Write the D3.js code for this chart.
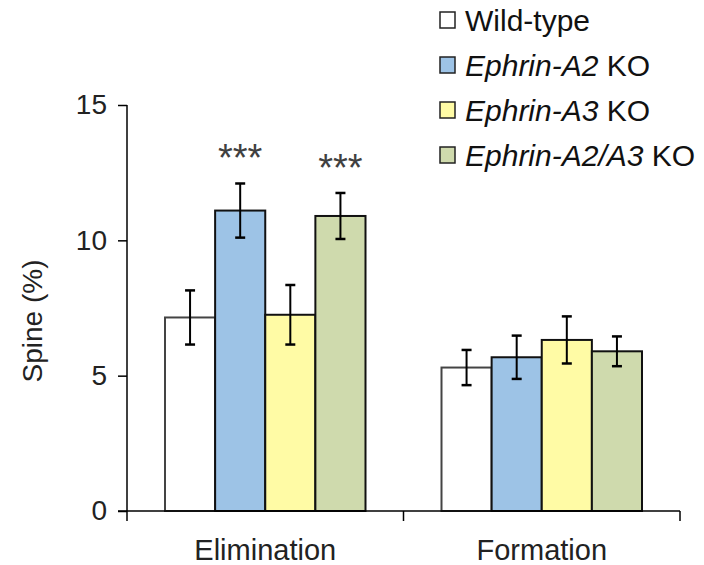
<!DOCTYPE html>
<html>
<head>
<meta charset="utf-8">
<script src="https://cdn.jsdelivr.net/npm/d3@7"></script>
<style>
  body { margin: 0; background: #fff; }
  text { font-family: "Liberation Sans", Arial, sans-serif; }
</style>
</head>
<body>
<svg id="chart" width="704" height="565"></svg>
<script>
// Chart data
const categories = ["Elimination", "Formation"];
const seriesNames = ["Wild-type", "Ephrin-A2 KO", "Ephrin-A3 KO", "Ephrin-A2/A3 KO"];
const seriesColors = ["#ffffff", "#9dc3e6", "#fffba5", "#cfdaad"];
const meanValues = [
    [7.15, 11.1, 7.25, 10.9],
    [5.3, 5.68, 6.32, 5.9]
];
const errorValues = [
    [1.0, 1.0, 1.1, 0.85],
    [0.65, 0.8, 0.87, 0.55]
];
const stars = [
    ["", "***", "", "***"],
    ["", "", "", ""]
];
const yTicks = [0, 5, 10, 15];

const svg = d3.select("#chart");
const margin = { top: 105, left: 127, right: 24, bottom: 54 };
const width = 704 - margin.left - margin.right;
const height = 565 - margin.top - margin.bottom;

const g = svg.append("g").attr("transform", "translate(" + margin.left + "," + margin.top + ")");

// Scales
const x0 = d3.scaleBand().domain(categories).range([0, width]).paddingInner(0).paddingOuter(0);
const x1 = d3.scaleBand().domain(seriesNames).range([38, x0.bandwidth() - 38]);
const y = d3.scaleLinear().domain([0, 15]).range([height, 0]);

// Bars
categories.forEach(function (cat, ci) {
    const grp = g.append("g").attr("transform", "translate(" + x0(cat) + ",0)");
    seriesNames.forEach(function (s, si) {
        const v = meanValues[ci][si];
        const e = errorValues[ci][si];
        const cx = x1(s) + x1.bandwidth() / 2;
        grp.append("rect")
            .attr("x", x1(s))
            .attr("y", y(v))
            .attr("width", x1.bandwidth())
            .attr("height", height - y(v))
            .attr("fill", seriesColors[si])
            .attr("stroke", si === 0 ? "#444" : "#111")
            .attr("stroke-width", 2);
        // error bar
        grp.append("line")
            .attr("x1", cx).attr("x2", cx)
            .attr("y1", y(v + e)).attr("y2", y(v - e))
            .attr("stroke", "#000").attr("stroke-width", 2);
        [v + e, v - e].forEach(function (yy) {
            grp.append("line")
                .attr("x1", cx - 5).attr("x2", cx + 5)
                .attr("y1", y(yy)).attr("y2", y(yy))
                .attr("stroke", "#000").attr("stroke-width", 2.5);
        });
        if (stars[ci][si]) {
            grp.append("text")
                .attr("x", cx)
                .attr("y", y(v + e) - 12)
                .attr("text-anchor", "middle")
                .attr("font-size", "38px")
                .attr("fill", "#404040")
                .text(stars[ci][si]);
        }
    });
});

// Y axis
const yAxis = g.append("g")
    .call(d3.axisLeft(y).tickValues(yTicks).tickSize(9).tickPadding(11).tickFormat(d3.format("d")));
yAxis.select(".domain").attr("stroke", "#000").attr("stroke-width", 1.5).attr("d", "M0," + height + "V0");
yAxis.selectAll(".tick line").attr("stroke", "#000").attr("stroke-width", 1.5);
yAxis.selectAll("text").attr("font-size", "28px").attr("fill", "#222");

// X axis
const xAxis = g.append("g").attr("transform", "translate(0," + height + ")");
xAxis.append("line")
    .attr("x1", -9).attr("x2", width)
    .attr("stroke", "#000").attr("stroke-width", 1.5);
[0].concat(categories.map(function (c) { return x0(c) + x0.bandwidth(); })).forEach(function (tx) {
    xAxis.append("line")
        .attr("x1", tx).attr("x2", tx)
        .attr("y1", 0).attr("y2", 10)
        .attr("stroke", "#000").attr("stroke-width", 1.5);
});
categories.forEach(function (c) {
    xAxis.append("text")
        .attr("x", x0(c) + x0.bandwidth() / 2)
        .attr("y", 49)
        .attr("text-anchor", "middle")
        .attr("font-size", "29px")
        .attr("fill", "#222")
        .text(c);
});

// Y label
svg.append("text")
    .attr("transform", "translate(42,321) rotate(-90)")
    .attr("text-anchor", "middle")
    .attr("font-size", "28px")
    .attr("fill", "#222")
    .text("Spine (%)");

// Legend
const legend = svg.append("g").attr("transform", "translate(440,12)");
seriesNames.forEach(function (s, i) {
    const row = legend.append("g").attr("transform", "translate(0," + i * 45 + ")");
    row.append("rect")
        .attr("x", 0).attr("y", 0)
        .attr("width", 15).attr("height", 16)
        .attr("fill", seriesColors[i])
        .attr("stroke", "#222").attr("stroke-width", 1.5);
    const t = row.append("text")
        .attr("x", 25).attr("y", 19)
        .attr("font-size", "30px")
        .attr("fill", "#111");
    if (s.endsWith(" KO")) {
        t.append("tspan").attr("font-style", "italic").text(s.replace(" KO", ""));
        t.append("tspan").text(" KO");
    } else {
        t.text(s);
    }
});
</script>
</body>
</html>
